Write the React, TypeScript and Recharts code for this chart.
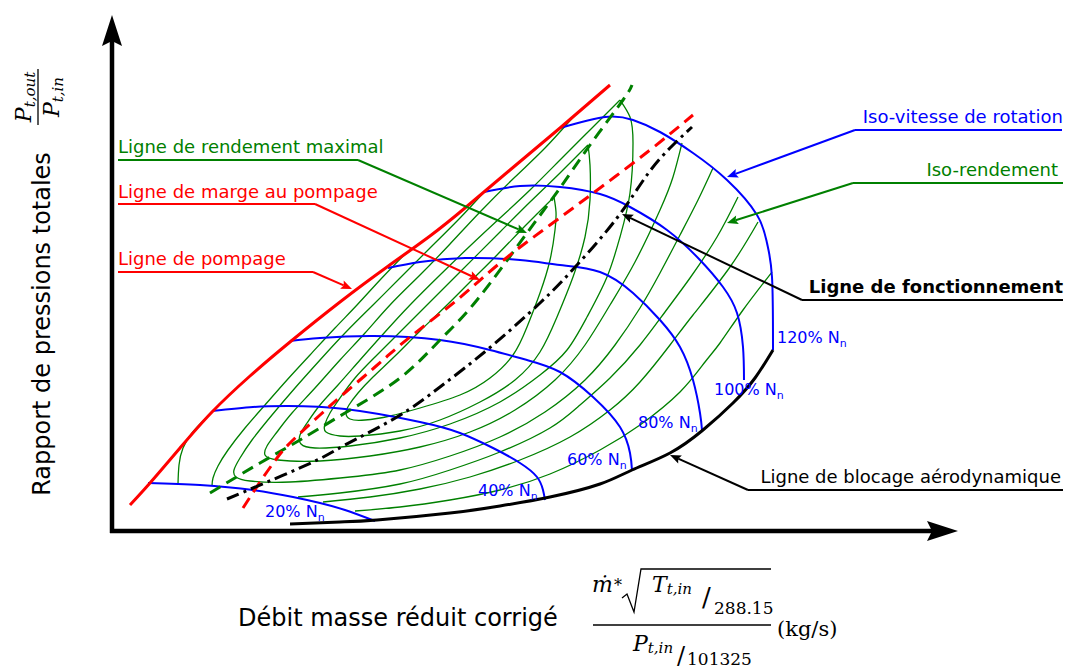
import React from 'react';
import { LineChart, Line, XAxis, YAxis, ReferenceLine } from 'recharts';

type Pt = { x: number; y: number };
const toPts = (arr: number[][]): Pt[] => arr.map(([x, y]) => ({ x, y }));

// x: corrected mass flow (arbitrary schematic units), y: pressure ratio (arbitrary schematic units)
const surgeLine = [[1.8,2.5],[3.8,4.7],[6.8,8.2],[10.0,11.8],[13.8,15.4],[17.8,18.8],[22.8,22.8],[27.5,26.3],[31.8,29.4],[35.3,32.2],[39.8,36.0],[44.8,40.2],[49.8,44.5]];
const speed20 = [[3.6,4.7],[8.8,4.5],[14.1,4.0],[18.1,3.3],[20.8,2.7],[23.3,2.0],[26.3,0.9]];
const speed40 = [[10.0,11.9],[14.1,12.3],[17.5,12.4],[23.3,12.1],[30.8,10.8],[34.8,9.7],[38.1,8.2],[40.8,6.7],[42.5,5.3],[43.1,4.0],[43.3,3.0]];
const speed60 = [[17.8,18.9],[20.8,19.2],[26.1,19.4],[32.8,19.0],[37.8,18.0],[41.5,17.0],[44.8,15.8],[48.1,13.3],[50.8,10.3],[51.8,7.7],[52.0,6.0]];
const speed80 = [[27.6,26.2],[30.8,26.8],[35.3,27.2],[40.8,27.0],[44.8,26.5],[48.8,25.8],[52.1,23.7],[54.8,21.0],[56.8,18.3],[58.1,15.0],[58.8,11.7],[59.0,10.0]];
const speed100 = [[37.2,33.8],[40.8,34.4],[44.8,34.3],[48.8,33.6],[51.8,32.3],[55.5,30.0],[58.8,27.0],[61.1,24.3],[62.5,21.7],[63.1,18.3],[63.2,15.0]];
const speed120 = [[44.8,40.2],[49.3,41.3],[52.1,41.0],[54.8,39.8],[58.1,37.7],[61.5,35.0],[64.5,31.5],[65.5,28.7],[66.0,25.3],[66.1,18.0]];
const chokeLine = [[17.8,0.6],[22.8,0.8],[26.5,1.0],[33.8,1.7],[38.8,2.4],[43.8,3.3],[48.8,4.6],[52.0,6.0],[55.8,7.7],[59.1,10.0],[62.1,12.7],[64.3,15.2],[66.1,18.0]];
const maxEffLine = [[9.8,3.7],[14.8,6.7],[18.8,9.0],[23.3,11.7],[28.8,15.2],[32.8,19.0],[36.5,23.0],[41.5,29.7],[44.8,34.2],[47.8,38.5],[51.1,43.0],[52.0,44.5]];
const surgeMarginLine = [[13.1,2.2],[14.8,4.8],[16.5,7.2],[18.1,9.0],[20.8,11.5],[22.8,13.3],[26.3,16.3],[29.8,19.3],[34.5,23.0],[38.8,26.7],[43.8,30.5],[48.8,34.2],[53.8,38.0],[58.1,41.5]];
const operatingLine = [[11.5,3.1],[14.1,4.2],[20.1,6.8],[23.3,8.5],[28.5,11.3],[32.8,14.3],[37.5,18.0],[42.8,22.7],[46.5,26.5],[50.5,31.2],[53.5,35.5],[55.8,38.2],[58.0,40.3]];

// iso-efficiency contours
const eff1 = [[44.2,33.3],[41.3,30.4],[38.5,27.5],[35.8,24.8],[33.5,22.5],[30.8,19.9],[28.3,17.4],[26.1,15.3],[24.6,13.7],[23.7,12.5],[23.4,11.7],[23.8,11.1],[25.3,11.0],[27.8,11.4],[30.8,12.2],[34.8,13.5],[37.8,15.2],[40.1,17.5],[41.5,20.3],[42.8,23.7],[43.8,27.0],[44.3,30.0],[44.4,31.8],[44.2,33.3]];
const eff2 = [[47.6,38.5],[44.8,35.7],[41.8,32.8],[38.8,29.8],[34.8,25.8],[31.5,22.5],[28.8,19.8],[26.3,17.3],[24.3,15.2],[22.8,13.2],[21.8,11.7],[21.3,10.6],[21.4,9.8],[22.8,9.4],[24.8,9.4],[28.8,9.9],[32.8,11.0],[36.8,12.8],[40.3,15.0],[42.8,17.8],[44.5,21.3],[46.1,25.3],[47.3,29.3],[47.8,33.0],[47.8,36.5],[47.6,38.5]];
const eff3 = [[50.8,43.0],[47.8,40.0],[44.8,37.0],[41.8,34.0],[38.8,31.2],[35.8,28.4],[32.8,25.5],[29.8,22.5],[27.3,19.8],[24.8,17.0],[22.6,14.5],[20.8,12.5],[19.5,10.7],[18.8,9.5],[18.9,8.6],[20.3,8.2],[23.8,8.4],[28.8,9.2],[33.8,10.6],[38.8,12.8],[42.8,15.5],[45.5,18.0],[47.5,21.3],[49.5,25.3],[50.8,29.3],[51.8,33.7],[52.1,38.7],[51.8,41.3],[50.8,43.0]];
const eff4 = [[46.3,41.5],[43.3,38.2],[40.3,35.3],[36.8,31.8],[33.8,28.6],[30.8,25.5],[27.8,22.5],[25.3,19.7],[22.8,17.0],[20.3,14.2],[18.0,11.7],[16.5,9.8],[15.5,8.4],[15.3,7.5],[16.6,7.0],[20.8,6.9],[25.8,7.4],[30.8,8.3],[35.8,9.8],[40.3,12.0],[44.3,15.0],[47.3,18.5],[49.8,22.5],[52.3,26.8],[54.8,32.0],[56.1,35.3],[57.0,38.7]];
const eff5 = [[37.3,33.9],[34.8,31.2],[31.8,28.2],[28.8,25.2],[26.1,22.5],[23.3,19.7],[20.8,17.0],[18.3,14.2],[16.0,11.5],[14.0,9.0],[12.8,7.2],[12.2,6.0],[12.4,5.3],[13.8,4.9],[17.8,4.8],[23.8,5.3],[28.8,6.0],[33.8,7.4],[38.8,9.3],[43.3,11.8],[47.3,15.0],[50.3,18.5],[52.8,22.2],[54.8,25.7],[56.8,29.5],[58.6,33.0],[60.1,36.2]];
const eff6Upper = [[29.3,27.6],[26.8,25.0],[24.5,22.5],[22.3,20.2],[19.8,17.5],[17.5,15.0],[15.3,12.5],[13.3,10.2],[11.6,8.0],[10.6,6.4],[10.1,5.2],[10.0,4.4]];
const eff6Lower = [[18.6,3.3],[22.8,3.7],[28.8,4.6],[33.8,6.0],[38.8,7.8],[43.8,10.2],[46.8,12.5],[49.8,15.2],[52.8,18.5],[55.3,21.8],[57.8,25.2],[60.5,29.3],[62.6,33.3]];
const eff7Upper = [[6.6,4.6],[6.7,6.5],[7.1,8.2],[8.0,9.7],[9.1,10.9],[10.0,11.8]];
const eff7Lower = [[21.1,2.8],[25.8,3.3],[30.8,4.1],[35.8,5.3],[40.8,7.0],[45.8,9.3],[49.8,12.0],[52.8,14.8],[55.8,18.5],[58.1,21.5],[61.8,26.3],[64.6,30.8]];
const eff8Lower = [[24.3,1.9],[28.8,2.3],[33.8,3.0],[38.8,4.0],[43.8,5.6],[48.8,8.0],[52.8,10.5],[56.8,13.8],[59.3,16.8],[60.8,18.7],[63.1,22.0],[66.0,25.8]];

const effCurves = [eff1, eff2, eff3, eff4, eff5, eff6Upper, eff6Lower, eff7Upper, eff7Lower, eff8Lower];

// axes (start, arrow tip)
const xAxisSeg = [[-0.2, -0.1], [84.6, -0.1]];
const yAxisSeg = [[0, -0.3], [0, 51.5]];

// annotation leaders: underline [start, end], pointer [from, arrow tip]
const leaders = [
  { color: 'green', under: [[0.6, 37.0], [24.6, 37.0]], ptr: [[24.6, 37.0], [41.5, 29.7]] },
  { color: 'red', under: [[0.6, 32.6], [20.3, 32.6]], ptr: [[20.3, 32.6], [36.8, 25.0]] },
  { color: 'red', under: [[0.6, 25.8], [20.1, 25.8]], ptr: [[20.1, 25.8], [24.0, 24.1]] },
  { color: 'blue', under: [[74.3, 40.0], [95.0, 40.0]], ptr: [[74.3, 40.0], [61.5, 35.3]] },
  { color: 'green', under: [[74.1, 34.7], [95.1, 34.7]], ptr: [[74.1, 34.7], [61.5, 30.7]] },
  { color: 'black', under: [[69.0, 23.0], [95.1, 23.0]], ptr: [[69.0, 23.0], [51.0, 31.6]] },
  { color: 'black', under: [[63.6, 4.0], [95.1, 4.0]], ptr: [[63.6, 4.0], [55.8, 7.5]] },
];

const RED = '#ff0000';
const BLUE = '#0000ff';
const GREEN = '#008000';

const colorOf = (c: string) => (c === 'green' ? GREEN : c === 'red' ? RED : c === 'blue' ? BLUE : '#000');

const arrowShape = (color: string, width: number, len: number, half: number, notch: number) => (props: any) => {
  const { x1, y1, x2, y2 } = props;
  const dx = x2 - x1;
  const dy = y2 - y1;
  const L = Math.hypot(dx, dy) || 1;
  const ux = dx / L;
  const uy = dy / L;
  const bx = x2 - ux * len;
  const by = y2 - uy * len;
  const nx = -uy;
  const ny = ux;
  const mx = x2 - ux * (len - notch);
  const my = y2 - uy * (len - notch);
  return (
    <g>
      <line x1={x1} y1={y1} x2={mx} y2={my} stroke={color} strokeWidth={width} />
      <polygon
        points={`${x2},${y2} ${bx + nx * half},${by + ny * half} ${mx},${my} ${bx - nx * half},${by - ny * half}`}
        fill={color}
      />
    </g>
  );
};

const seg = (s: number[][]) => [{ x: s[0][0], y: s[0][1] }, { x: s[1][0], y: s[1][1] }];

const W = 1067;
const H = 669;

const sansFont = "'DejaVu Sans', Verdana, sans-serif";
const mathFont = "'DejaVu Serif', 'Liberation Serif', serif";

const SpeedLabel = ({ x, y, t }: { x: number; y: number; t: string }) => (
  <text x={x} y={y} fill={BLUE} fontSize={16} fontFamily={sansFont}>
    {t}% N<tspan fontSize={11} dy={4}>n</tspan>
  </text>
);

export default function App() {
  return (
    <div style={{ position: 'absolute', left: 0, top: 0, width: W, height: H, background: '#fff' }}>
      <div style={{ position: 'absolute', left: 0, top: 0 }}>
        <LineChart width={W} height={H} margin={{ top: 15, right: 0, bottom: 109, left: 92 }}>
          <XAxis type="number" dataKey="x" domain={[-2, 95.5]} hide allowDataOverflow />
          <YAxis type="number" dataKey="y" domain={[-3, 51.5]} hide allowDataOverflow />
          {effCurves.map((c, i) => (
            <Line key={'eff' + i} data={toPts(c)} dataKey="y" type="natural" stroke={GREEN} strokeWidth={1.3} dot={false} isAnimationActive={false} />
          ))}
          {[speed20, speed40, speed60, speed80, speed100, speed120].map((c, i) => (
            <Line key={'sp' + i} data={toPts(c)} dataKey="y" type="natural" stroke={BLUE} strokeWidth={2} dot={false} isAnimationActive={false} />
          ))}
          <Line data={toPts(maxEffLine)} dataKey="y" type="natural" stroke={GREEN} strokeWidth={3} strokeDasharray="12 7" dot={false} isAnimationActive={false} />
          <Line data={toPts(surgeMarginLine)} dataKey="y" type="natural" stroke={RED} strokeWidth={3} strokeDasharray="12 7" dot={false} isAnimationActive={false} />
          <Line data={toPts(operatingLine)} dataKey="y" type="natural" stroke="#000" strokeWidth={3} strokeDasharray="13 5 3 5" dot={false} isAnimationActive={false} />
          <Line data={toPts(chokeLine)} dataKey="y" type="natural" stroke="#000" strokeWidth={3} dot={false} isAnimationActive={false} />
          <Line data={toPts(surgeLine)} dataKey="y" type="natural" stroke={RED} strokeWidth={3} dot={false} isAnimationActive={false} />
          <ReferenceLine segment={seg(xAxisSeg)} ifOverflow="visible" stroke="#000" shape={arrowShape('#000', 4.5, 31, 10, 5)} />
          <ReferenceLine segment={seg(yAxisSeg)} ifOverflow="visible" stroke="#000" shape={arrowShape('#000', 4.5, 31, 10, 5)} />
          {leaders.map((l, i) => (
            <ReferenceLine key={'u' + i} segment={seg(l.under)} ifOverflow="visible" stroke={colorOf(l.color)} strokeWidth={2} />
          ))}
          {leaders.map((l, i) => (
            <ReferenceLine key={'p' + i} segment={seg(l.ptr)} ifOverflow="visible" stroke={colorOf(l.color)} shape={arrowShape(colorOf(l.color), 2, 11, 4.5, 2)} />
          ))}
        </LineChart>
      </div>
      <svg width={W} height={H} style={{ position: 'absolute', left: 0, top: 0, pointerEvents: 'none' }}>
        <g fontFamily={sansFont} fontSize={18}>
          <text x={118} y={153} fill={GREEN}>Ligne de rendement maximal</text>
          <text x={118} y={198} fill={RED}>Ligne de marge au pompage</text>
          <text x={118} y={265} fill={RED}>Ligne de pompage</text>
          <text x={1063} y={123} fill={BLUE} textAnchor="end">Iso-vitesse de rotation</text>
          <text x={1058} y={176} fill={GREEN} textAnchor="end">Iso-rendement</text>
          <text x={1063} y={293} fill="#000" textAnchor="end" fontWeight="bold">Ligne de fonctionnement</text>
          <text x={1061} y={483} fill="#000" textAnchor="end">Ligne de blocage aérodynamique</text>
        </g>
        <SpeedLabel x={265} y={517} t="20" />
        <SpeedLabel x={478} y={496} t="40" />
        <SpeedLabel x={567} y={465} t="60" />
        <SpeedLabel x={638} y={428} t="80" />
        <SpeedLabel x={714} y={395} t="100" />
        <SpeedLabel x={777} y={343} t="120" />
        <text transform="translate(50,324) rotate(-90)" textAnchor="middle" fontFamily={sansFont} fontSize={24} fill="#000">
          Rapport de pressions totales
        </text>
        <text x={238} y={626} fontFamily={sansFont} fontSize={24} fill="#000">Débit masse réduit corrigé</text>
        {/* y-axis formula */}
        <g transform="translate(38,97) rotate(-90)" fontFamily={mathFont} fill="#000">
          <text x={0} y={-7} textAnchor="middle" fontSize={22} fontStyle="italic">
            P<tspan fontSize={15} dy={4}>t,out</tspan>
          </text>
          <line x1={-28} y1={0} x2={28} y2={0} stroke="#000" strokeWidth={1.3} />
          <text x={0} y={21} textAnchor="middle" fontSize={22} fontStyle="italic">
            P<tspan fontSize={15} dy={4}>t,in</tspan>
          </text>
        </g>
        {/* x-axis formula */}
        <g fontFamily={mathFont} fill="#000">
          <text x={592} y={592} fontSize={22} fontStyle="italic">ṁ</text>
          <text x={614} y={591} fontSize={16}>*</text>
          <path d="M 622 598 L 627 594 L 634 612 L 641 569 L 771 569" fill="none" stroke="#000" strokeWidth={1.3} />
          <text x={652} y={592} fontSize={22} fontStyle="italic">
            T<tspan fontSize={15} dy={2}>t,in</tspan>
          </text>
          <text x={702} y={606} fontSize={26}>/</text>
          <text x={714} y={614} fontSize={17}>288.15</text>
          <line x1={593} y1={625} x2={771} y2={625} stroke="#000" strokeWidth={1.3} />
          <text x={633} y={651} fontSize={22} fontStyle="italic">
            P<tspan fontSize={15} dy={2}>t,in</tspan>
          </text>
          <text x={677} y={664} fontSize={24}>/</text>
          <text x={687} y={665} fontSize={17}>101325</text>
          <text x={777} y={636} fontSize={21}>(kg/s)</text>
        </g>
      </svg>
    </div>
  );
}
